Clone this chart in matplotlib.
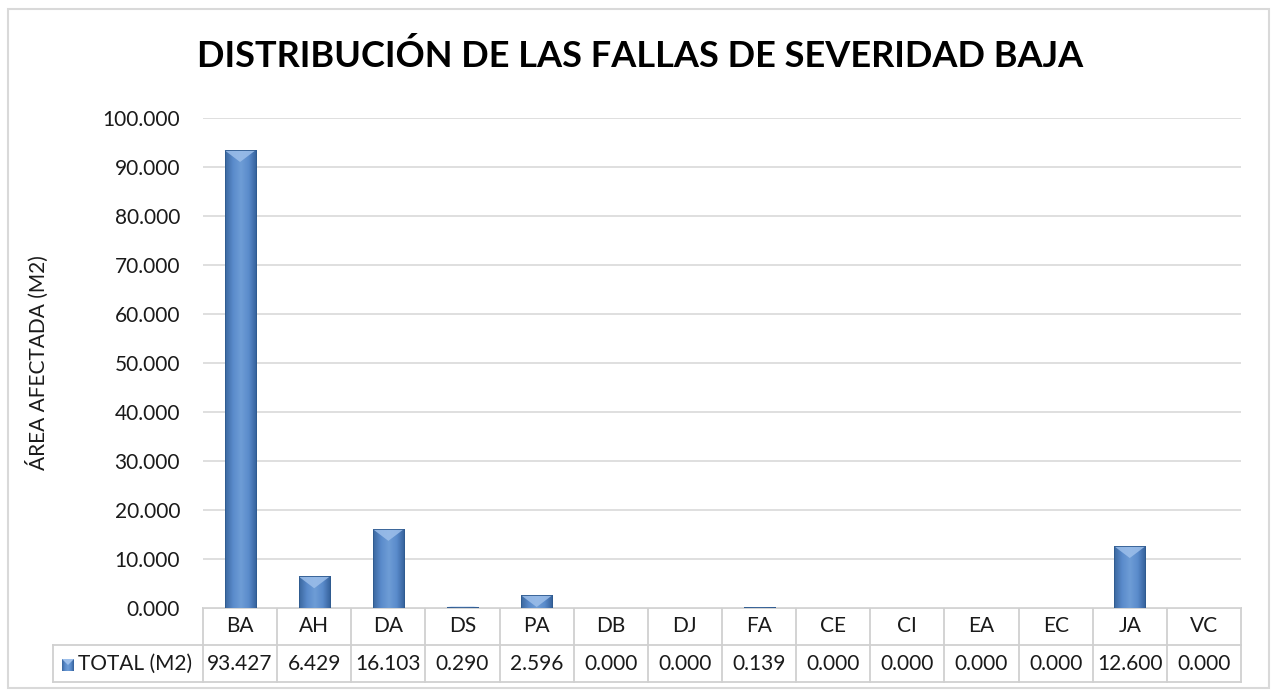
import numpy as np
import matplotlib.pyplot as plt
from matplotlib.patches import Polygon, Rectangle
from matplotlib.colors import LinearSegmentedColormap

# data
categories = ['BA', 'AH', 'DA', 'DS', 'PA', 'DB', 'DJ', 'FA', 'CE', 'CI', 'EA', 'EC', 'JA', 'VC']
totals = [93.427, 6.429, 16.103, 0.290, 2.596, 0.000, 0.000, 0.139, 0.000, 0.000, 0.000, 0.000, 12.600, 0.000]
series_name = 'TOTAL (M2)'
yticks = [0, 10, 20, 30, 40, 50, 60, 70, 80, 90, 100]

plt.rcParams['font.family'] = ['Lato', 'DejaVu Sans']
text_col = '#1A1A1A'
grid_col = '#D9D9D9'
line_col = '#D0D0D0'
fs = 15

fig = plt.figure(figsize=(12.72, 6.90), dpi=100)
fig.patches.append(Rectangle((8 / 1272, 2 / 690), 1261 / 1272, 679 / 690, transform=fig.transFigure,
                             fill=False, edgecolor='#D9D9D9', linewidth=1.5))

L, R = 203, 1241
ax = fig.add_axes([L / 1272, 1 - 608 / 690, (R - L) / 1272, (608 - 118) / 690])
x = np.arange(len(categories))
ax.set_xlim(-0.5, len(categories) - 0.5)
ax.set_ylim(0, 100)

# bars with a simple bevel look
bar_w = 0.42
grad = LinearSegmentedColormap.from_list('bev', ['#3A679F', '#5A8BCB', '#6E9DD6', '#5A8BCB', '#34609A'])
bars = ax.bar(x, totals, width=bar_w, color='#4F81BD', edgecolor='#2F5A8E', linewidth=0.6, zorder=3)
gimg = np.linspace(0, 1, 64).reshape(1, -1)
for b, v in zip(bars, totals):
    if v <= 0:
        continue
    x0, x1 = b.get_x(), b.get_x() + b.get_width()
    im = ax.imshow(gimg, cmap=grad, aspect='auto', extent=[x0, x1, 0, v], zorder=3.5)
    im.set_clip_path(b)
    h = min(2.4, v)
    ax.add_patch(Polygon([[x0, v], [x1, v], [(x0 + x1) / 2, v - h]], closed=True,
                         facecolor='#9DBFEA', edgecolor='none', alpha=0.85, zorder=4))
    ax.add_patch(Rectangle((x0, 0), x1 - x0, v, fill=False, edgecolor='#2F5A8E', linewidth=0.6, zorder=4.5))

ax.set_yticks(yticks)
ax.set_yticklabels([f'{t:.3f}' for t in yticks], fontsize=fs, color=text_col)
ax.tick_params(axis='y', length=0, pad=16.5)
ax.set_xticks([])
ax.grid(axis='y', color=grid_col, linewidth=1.2, zorder=0)
for s in ax.spines.values():
    s.set_visible(False)
ax.set_ylabel('ÁREA AFECTADA (M2)', fontsize=fs, color=text_col)
ax.yaxis.set_label_coords((49 - L) / (R - L), 0.5)

# data table under the axis
tr = ax.get_xaxis_transform()
row_h = 37 / 490
y_top, y_mid, y_bot = 0, -row_h, -2 * row_h
unit = (R - L) / len(categories)
left_cell = -0.5 - (L - 53) / unit
kw = dict(color=line_col, linewidth=1.3, clip_on=False, transform=tr, zorder=1)
ax.plot([-0.5, len(categories) - 0.5], [y_top, y_top], **kw)
ax.plot([left_cell, len(categories) - 0.5], [y_mid, y_mid], **kw)
ax.plot([left_cell, len(categories) - 0.5], [y_bot, y_bot], **kw)
ax.plot([left_cell, left_cell], [y_mid, y_bot], **kw)
for i in range(len(categories) + 1):
    ax.plot([i - 0.5, i - 0.5], [y_top, y_bot], **kw)
for i, (c, v) in enumerate(zip(categories, totals)):
    ax.text(i, (y_top + y_mid) / 2, c, transform=tr, ha='center', va='center', fontsize=fs, color=text_col)
    ax.text(i, (y_mid + y_bot) / 2, f'{v:.3f}', transform=tr, ha='center', va='center', fontsize=fs, color=text_col)

# legend key + series name
ax_key = fig.add_axes([62 / 1272, 1 - 671 / 690, 12 / 1272, 12 / 690])
ax_key.set_xlim(0, 1)
ax_key.set_ylim(0, 1)
ax_key.imshow(gimg, cmap=grad, aspect='auto', extent=[0, 1, 0, 1])
ax_key.add_patch(Polygon([[0, 1], [1, 1], [0.5, 0.5]], facecolor='#9DBFEA', edgecolor='none'))
ax_key.axis('off')
ax.text(-0.5 - (L - 78) / unit, (y_mid + y_bot) / 2, series_name, transform=tr,
        ha='left', va='center', fontsize=fs, color=text_col)

fig.text(0.503, 1 - 56 / 690, 'DISTRIBUCIÓN DE LAS FALLAS DE SEVERIDAD BAJA', ha='center', va='center',
         fontsize=26, fontweight='bold', color='black')

fig.savefig('out.png', dpi=100, facecolor='white')
